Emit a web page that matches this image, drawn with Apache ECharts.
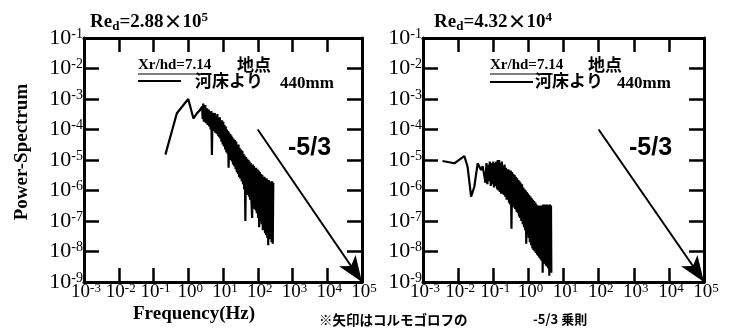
<!DOCTYPE html>
<html><head><meta charset="utf-8">
<script src="https://cdn.jsdelivr.net/npm/echarts@6/dist/echarts.min.js"></script>
<style>html,body{margin:0;padding:0;background:#fff}#c{width:739px;height:330px}</style>
</head><body><div id="c"></div>
<script>
// ---- tick labels (exponents of 10), from the lowest tick upward ----
const xTickExps = ['-3','-2','-1','0','1','2','3','4','5'];
const yTickExps = ['-9','-8','-7','-6','-5','-4','-3','-2','-1'];

// ---- panel titles ----
const panelRe = [['2.88', '5'], ['4.32', '4']];

// ---- left spectrum (Re_d = 2.88e5): frequency [Hz], power ----
const leftFreq = [0.22, 0.47, 1.0, 1.13, 1.41, 1.78, 2.2,
  2.5, 2.6, 2.7, 2.8, 2.9, 3.0, 3.1, 3.2, 3.3, 3.4, 3.5, 3.6, 3.7, 3.8, 3.9, 4.0,
  4.2, 4.4, 4.6, 4.8, 5.0, 5.2, 5.4, 5.6, 5.8, 6.0,
  6.3, 6.6, 6.9, 7.2, 7.5, 7.8, 8.1, 8.4, 8.7, 9.0,
  9.4, 9.8, 10.2, 10.6, 11, 11.5, 12, 12.5, 13, 13.5,
  14, 14.5, 15, 15.6, 16.2, 16.8, 17.4, 18, 18.7, 19.4,
  20, 21, 22, 23, 24, 25, 26, 27, 28, 29, 30,
  31.5, 33, 34.5, 36, 37.5, 39, 40.5, 42,
  44, 46, 48, 50, 52, 54, 56, 58, 60,
  63, 66, 69, 72, 75, 78, 81, 84, 87, 90,
  94, 98, 102, 106, 110, 115, 120, 125, 130, 135,
  140, 145, 150, 156, 162, 168, 174, 180, 187, 194,
  200, 208, 216, 224, 232, 240, 250, 260, 270, 280];
const leftPower = [1.5e-5, 3.4e-4, 1.0e-3, 1.0e-3, 2.3e-4, 3.4e-4, 4.4e-4,
  5.6e-4, 2.2e-4, 7.1e-4, 1.8e-4, 5.0e-4, 2.5e-4, 6.3e-4, 1.6e-4, 4.5e-4, 2.0e-4, 5.0e-4, 1.4e-4, 4.0e-4, 1.8e-4, 4.5e-4, 1.26e-4,
  3.5e-4, 1.0e-4, 4.0e-4, 1.45e-5, 3.5e-4, 8.9e-5, 3.2e-4, 1.0e-4, 3.5e-4, 7.9e-5,
  2.8e-4, 7.1e-5, 3.2e-4, 6.3e-5, 2.5e-4, 5.6e-5, 2.5e-4, 5.0e-5, 2.0e-4, 4.0e-5,
  2.0e-4, 3.2e-5, 1.8e-4, 2.8e-5, 1.4e-4, 2.2e-5, 1.26e-4, 1.8e-5, 1.0e-4, 1.6e-5,
  8.9e-5, 5.6e-6, 7.9e-5, 1.1e-5, 7.1e-5, 1.0e-5, 6.3e-5, 8.9e-6, 5.6e-5, 7.1e-6,
  5.0e-5, 6.3e-6, 4.5e-5, 5.0e-6, 4.0e-5, 4.0e-6, 3.2e-5, 3.5e-6, 3.2e-5, 2.8e-6, 2.5e-5,
  2.5e-6, 2.2e-5, 2.0e-6, 2.0e-5, 1.6e-6, 1.6e-5, 1.1e-6, 1.4e-5,
  1.0e-7, 1.26e-5, 7.9e-7, 1.1e-5, 7.1e-7, 1.0e-5, 6.3e-7, 8.9e-6, 5.0e-7,
  7.9e-6, 4.0e-7, 1.26e-7, 7.1e-6, 3.2e-7, 6.3e-6, 2.5e-7, 5.6e-6, 2.2e-7, 5.6e-6,
  1.8e-7, 5.0e-6, 1.26e-7, 4.5e-6, 6.3e-8, 4.0e-6, 1.0e-7, 3.5e-6, 7.9e-8, 3.2e-6,
  5.0e-8, 2.8e-6, 6.3e-8, 2.8e-6, 4.0e-8, 2.5e-6, 3.5e-8, 2.5e-6, 2.8e-8, 2.2e-6,
  1.6e-8, 2.2e-6, 3.2e-8, 2.0e-6, 2.5e-8, 2.0e-6, 2.0e-8, 2.0e-6, 1.8e-8, 1.8e-6];

// ---- right spectrum (Re_d = 4.32e4): frequency [Hz], power ----
const rightFreq = [0.0036, 0.0078, 0.015, 0.0186, 0.0234, 0.0288, 0.036, 0.045, 0.05,
  0.056, 0.06, 0.064, 0.068, 0.072, 0.076, 0.08, 0.085, 0.09, 0.095,
  0.1, 0.105, 0.11, 0.116, 0.122, 0.128, 0.134, 0.14, 0.147, 0.154,
  0.161, 0.168, 0.176, 0.184, 0.192, 0.2, 0.21, 0.22, 0.23, 0.24,
  0.25, 0.26, 0.27, 0.28, 0.29, 0.3, 0.315, 0.33, 0.345, 0.36,
  0.375, 0.39, 0.405, 0.42, 0.44, 0.46, 0.48, 0.5, 0.52, 0.54,
  0.56, 0.58, 0.6, 0.63, 0.66, 0.69, 0.72, 0.75, 0.78, 0.81,
  0.84, 0.87, 0.9, 0.94, 0.98, 1.02, 1.06, 1.1, 1.15, 1.2,
  1.25, 1.3, 1.35, 1.4, 1.46, 1.52, 1.58, 1.64, 1.7, 1.77,
  1.84, 1.91, 1.98, 2.05, 2.13, 2.21, 2.29, 2.37, 2.45, 2.55,
  2.65, 2.75, 2.85, 2.95, 3.05, 3.15, 3.25, 3.35, 3.5, 3.65,
  3.8, 3.95, 4.1, 4.25, 4.4, 4.5];
const rightPower = [9.3e-6, 7.8e-6, 1.35e-5, 6.0e-6, 6.3e-7, 1.3e-6, 7.8e-6, 4.7e-6, 6.3e-6,
  7.1e-6, 1.8e-6, 7.9e-6, 1.6e-6, 7.1e-6, 2.0e-6, 8.9e-6, 1.4e-6, 7.9e-6, 1.6e-6,
  8.9e-6, 1.26e-6, 7.9e-6, 1.4e-6, 8.9e-6, 1.1e-6, 1.0e-5, 1.0e-6, 1.0e-5, 8.9e-7,
  7.9e-6, 7.9e-7, 8.9e-6, 7.9e-7, 6.3e-6, 7.1e-7, 7.1e-6, 6.3e-7, 5.6e-6, 5.0e-7,
  5.0e-6, 5.0e-7, 5.0e-6, 4.0e-7, 4.5e-6, 3.5e-7, 4.5e-6, 5.6e-8, 4.0e-6, 3.2e-7,
  3.5e-6, 2.8e-7, 3.2e-6, 2.5e-7, 2.8e-6, 2.0e-7, 2.5e-6, 1.8e-7, 2.2e-6, 1.4e-7,
  2.0e-6, 1.26e-7, 1.8e-6, 1.0e-7, 1.6e-6, 7.9e-8, 1.26e-6, 6.3e-8, 1.1e-6, 5.0e-8,
  1.0e-6, 1.8e-8, 8.9e-7, 3.5e-8, 7.9e-7, 2.8e-8, 7.1e-7, 2.0e-8, 6.3e-7, 1.6e-8,
  5.6e-7, 1.26e-8, 5.0e-7, 1.1e-8, 4.5e-7, 1.0e-8, 4.0e-7, 8.9e-9, 3.5e-7, 7.9e-9,
  3.2e-7, 7.1e-9, 3.2e-7, 6.3e-9, 2.8e-7, 5.6e-9, 3.2e-7, 5.0e-9, 3.2e-7, 2.0e-9,
  3.5e-7, 4.5e-9, 3.2e-7, 4.0e-9, 3.5e-7, 3.5e-9, 3.2e-7, 3.2e-9, 3.5e-7, 2.8e-9,
  3.2e-7, 1.6e-9, 3.5e-7, 2.5e-9, 3.2e-7, 2.0e-9];

// ---- Kolmogorov -5/3 reference arrow: [freq, power] start and end ----
const kolmogorov = [[100, 1e-4], [1e5, 1e-9]];

const SERIF = '"Liberation Serif","Times New Roman",serif';
const CJK = '"Noto Sans CJK JP",sans-serif';

const chart = echarts.init(document.getElementById('c'), null, {renderer: 'canvas'});

const grids = [
  {left: 84, top: 38, width: 278, height: 244},
  {left: 423, top: 38, width: 281, height: 244}
];

function expLabel(list, lowest) {
  return (v) => {
    const e = list[Math.round(Math.log10(v)) - lowest];
    return e === undefined ? '' : '{b|10}{s|' + e + '}';
  };
}

const xLabelRich = {
  b: {fontFamily: SERIF, fontSize: 19, color: '#000', lineHeight: 20, width: 19, align: 'center', padding: [0, 0, 0, 4]},
  s: {fontFamily: SERIF, fontSize: 13, color: '#000', lineHeight: 10, verticalAlign: 'top'}
};
const yLabelRich = {
  b: {fontFamily: SERIF, fontSize: 22, color: '#000', lineHeight: 22},
  s: {fontFamily: SERIF, fontSize: 14, color: '#000', lineHeight: 10, verticalAlign: 'top'}
};
const tickStyle = {show: true, inside: true, length: 14, lineStyle: {color: '#000', width: 2.5}};
const lineStyle = {show: true, lineStyle: {color: '#000', width: 3}};

const xAxes = [], yAxes = [];
grids.forEach((g, i) => {
  xAxes.push({
    gridIndex: i, type: 'log', logBase: 10, min: 1e-3, max: 1e5, interval: 1, position: 'bottom',
    axisLine: lineStyle, axisTick: tickStyle, splitLine: {show: false}, minorTick: {show: false},
    axisLabel: {margin: 0, interval: 0, formatter: expLabel(xTickExps, -3), rich: xLabelRich, showMinLabel: true, showMaxLabel: true, hideOverlap: false}
  });
  xAxes.push({
    gridIndex: i, type: 'log', logBase: 10, min: 1e-3, max: 1e5, interval: 1, position: 'top',
    axisLine: lineStyle, axisTick: tickStyle, splitLine: {show: false}, axisLabel: {show: false}
  });
  yAxes.push({
    gridIndex: i, type: 'log', logBase: 10, min: 1e-9, max: 1e-1, interval: 1, position: 'left',
    axisLine: lineStyle, axisTick: Object.assign({}, tickStyle, {length: 15}), splitLine: {show: false},
    axisLabel: {margin: 1, interval: 0, formatter: expLabel(yTickExps, -9), rich: yLabelRich, showMinLabel: true, showMaxLabel: true, hideOverlap: false}
  });
  yAxes.push({
    gridIndex: i, type: 'log', logBase: 10, min: 1e-9, max: 1e-1, interval: 1, position: 'right',
    axisLine: lineStyle, axisTick: Object.assign({}, tickStyle, {length: 15}), splitLine: {show: false}, axisLabel: {show: false}
  });
});

function spectrumSeries(freq, power, gi) {
  return {
    type: 'line', xAxisIndex: gi * 2, yAxisIndex: gi * 2,
    data: freq.map((f, k) => [f, power[k]]),
    showSymbol: false, symbol: 'none', clip: false, silent: true,
    lineStyle: {color: '#000', width: 2.2},
    markLine: {
      silent: true, symbol: ['none', 'arrow'], symbolSize: [15, 26], symbolOffset: [0, 0],
      label: {show: false},
      lineStyle: {color: '#000', width: 2, type: 'solid'},
      emphasis: {disabled: true},
      data: [[{coord: kolmogorov[0]}, {coord: kolmogorov[1]}]]
    }
  };
}

const titleRich = {
  a: {fontFamily: SERIF, fontWeight: 'bold', fontSize: 19, color: '#000', lineHeight: 22},
  x: {fontFamily: CJK, fontWeight: 'bold', fontSize: 19, color: '#000', lineHeight: 22},
  d: {fontFamily: SERIF, fontWeight: 'bold', fontSize: 13, color: '#000', lineHeight: 8, verticalAlign: 'bottom'},
  s: {fontFamily: SERIF, fontWeight: 'bold', fontSize: 13, color: '#000', lineHeight: 8, verticalAlign: 'top'}
};
function titleText(p) {
  return '{a|Re}{d|d}{a|=' + p[0] + '}{x|×}{a|10}{s|' + p[1] + '}';
}

const boldSerif = (s) => 'bold ' + s + 'px ' + SERIF;
const boldCJK = (s) => 'bold ' + s + 'px ' + CJK;

function legendGraphics(o) {
  return [
    {type: 'text', left: o.xr, top: 58, style: {text: 'Xr/hd=7.14', font: boldSerif(15), fill: '#000'}},
    {type: 'line', shape: {x1: o.xr, y1: 74, x2: o.xr + 63, y2: 74}, style: {stroke: '#000', lineWidth: 1.2}},
    {type: 'text', left: o.pt, top: 56, style: {text: '地点', font: boldCJK(17), fill: '#000'}},
    {type: 'line', shape: {x1: o.ln[0], y1: o.ly, x2: o.ln[1], y2: o.ly}, style: {stroke: '#000', lineWidth: 2}},
    {type: 'text', left: o.kc, top: 72, style: {text: '河床より', font: boldCJK(17), fill: '#000'}},
    {type: 'text', left: o.mm, top: 75, style: {text: '440mm', font: boldSerif(17), fill: '#000'}},
    {type: 'text', left: o.sl, top: 136, style: {text: '-5/3', font: 'bold 25px "Liberation Sans",Arial,sans-serif', fill: '#000'}}
  ];
}

const option = {
  animation: false,
  backgroundColor: '#fff',
  grid: grids,
  xAxis: xAxes,
  yAxis: yAxes,
  title: [
    {left: 85, top: 6, text: titleText(panelRe[0]), textStyle: {rich: titleRich}},
    {left: 429, top: 6, text: titleText(panelRe[1]), textStyle: {rich: titleRich}}
  ],
  series: [spectrumSeries(leftFreq, leftPower, 0), spectrumSeries(rightFreq, rightPower, 1)],
  graphic: [].concat(
    legendGraphics({xr: 138, pt: 237, ln: [138, 181], ly: 81, kc: 195, mm: 280, sl: 288}),
    legendGraphics({xr: 490, pt: 588, ln: [490, 533], ly: 82, kc: 535, mm: 617, sl: 629}),
    [
      {type: 'text', x: 22, y: 152, rotation: Math.PI / 2, style: {text: 'Power-Spectrum', font: boldSerif(19), fill: '#000', align: 'center', verticalAlign: 'middle'}},
      {type: 'text', left: 133, top: 305, style: {text: 'Frequency(Hz)', font: boldSerif(19), fill: '#000'}},
      {type: 'text', left: 319, top: 313, style: {text: '※矢印はコルモゴロフの', font: boldCJK(13.5), fill: '#000'}},
      {type: 'text', left: 533, top: 313, style: {text: '-5/3 乗則', font: boldCJK(13), fill: '#000'}}
    ]
  )
};
chart.setOption(option);
</script>
</body></html>
